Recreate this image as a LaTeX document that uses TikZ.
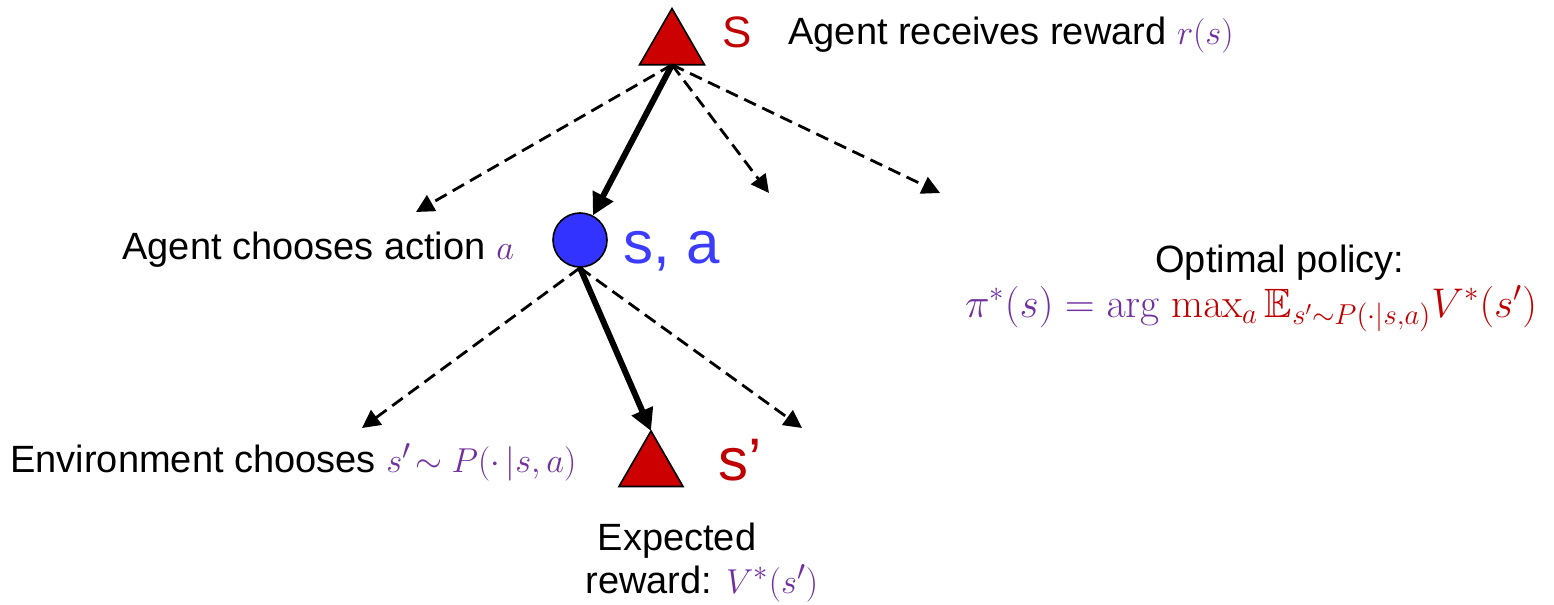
\documentclass[tikz,border=0pt]{standalone}
\usepackage{amsmath,amssymb}
\usepackage[no-math]{fontspec}
\setmainfont{Liberation Sans}
\usetikzlibrary{shapes.geometric,arrows.meta}
\definecolor{mpurple}{HTML}{7030A0}
\definecolor{mred}{HTML}{C00000}
\definecolor{trired}{HTML}{CC0000}
\definecolor{cblue}{HTML}{3333FF}
\definecolor{tblue}{HTML}{3C3CFF}
\begin{document}
\begin{tikzpicture}[x=0.5pt,y=-0.5pt,
  lbl/.style={font=\fontsize{19}{22}\selectfont, inner sep=0pt, anchor=base west},
  clbl/.style={font=\fontsize{19}{22}\selectfont, inner sep=0pt, anchor=base},
  big/.style={font=\fontsize{30}{34}\selectfont, inner sep=0pt, anchor=base west},
  tri/.style={regular polygon, regular polygon sides=3, draw=black, line width=0.8pt, fill=trired, inner sep=0pt, outer sep=0pt},
  dasharrow/.style={dash pattern=on 6.5pt off 3.5pt, line width=1.4pt, -{Triangle[length=9pt,width=9pt]}},
  solidarrow/.style={line width=3pt, -{Triangle[length=11pt,width=11pt]}}]
\useasboundingbox (0,0) rectangle (1554,605);

% nodes
\node[tri, minimum size=37.5pt] (top) at (672,46) {};
\node[circle, draw=black, line width=0.8pt, fill=cblue, minimum size=27pt, inner sep=0pt] (sa) at (580,240) {};
\node[tri, minimum size=37pt] (bot) at (651,468) {};

% labels
\node[font=\fontsize{22}{26}\selectfont, inner sep=0pt, anchor=base west, text=mred] (sl) at (722,47) {S};
\node[lbl] (rew) at (788,45) {Agent receives reward {\color{mpurple}$r(s)$}};
\node[lbl] (act) at (122,259) {Agent chooses action {\color{mpurple}$a$}};
\node[big, text=tblue] (salbl) at (623,263) {s, a};
\node[lbl] (env) at (10,472) {Environment chooses {\color{mpurple}$s'\!\sim P(\cdot\,|s,a)$}};
\node[big, text=mred] (spl) at (718,480) {s’};
\node[clbl] (exp1) at (677,550) {Expected};
\node[lbl] (exp2) at (585,593) {reward: {\color{mpurple}$V^*(s')$}};
\node[clbl] (opt) at (1280,272) {Optimal policy:};
\node[font=\fontsize{20.5}{24}\selectfont, inner sep=0pt, anchor=base] (form) at (1251,317) {{\color{mpurple}$\pi^*(s)=\mathrm{arg}$} {\color{mred}$\mathrm{max}_a\,\mathbb{E}_{s'\sim P(\cdot|s,a)}V^*(s')$}};

% free ends of dashed arrows
\coordinate (d1) at (416,212);
\coordinate (d2) at (769,193);
\coordinate (d3) at (940,193);
\coordinate (d4) at (362,428);
\coordinate (d5) at (802,428);

% connectors
\draw[dasharrow] (top.south) -- (d1);
\draw[dasharrow] (top.south) -- (d2);
\draw[dasharrow] (top.south) -- (d3);
\draw[solidarrow] (top.south) -- (sa);
\draw[dasharrow] (sa.south) -- (d4);
\draw[dasharrow] (sa.south) -- (d5);
\draw[solidarrow] (sa.south) -- (bot.corner 1);
\end{tikzpicture}
\end{document}
